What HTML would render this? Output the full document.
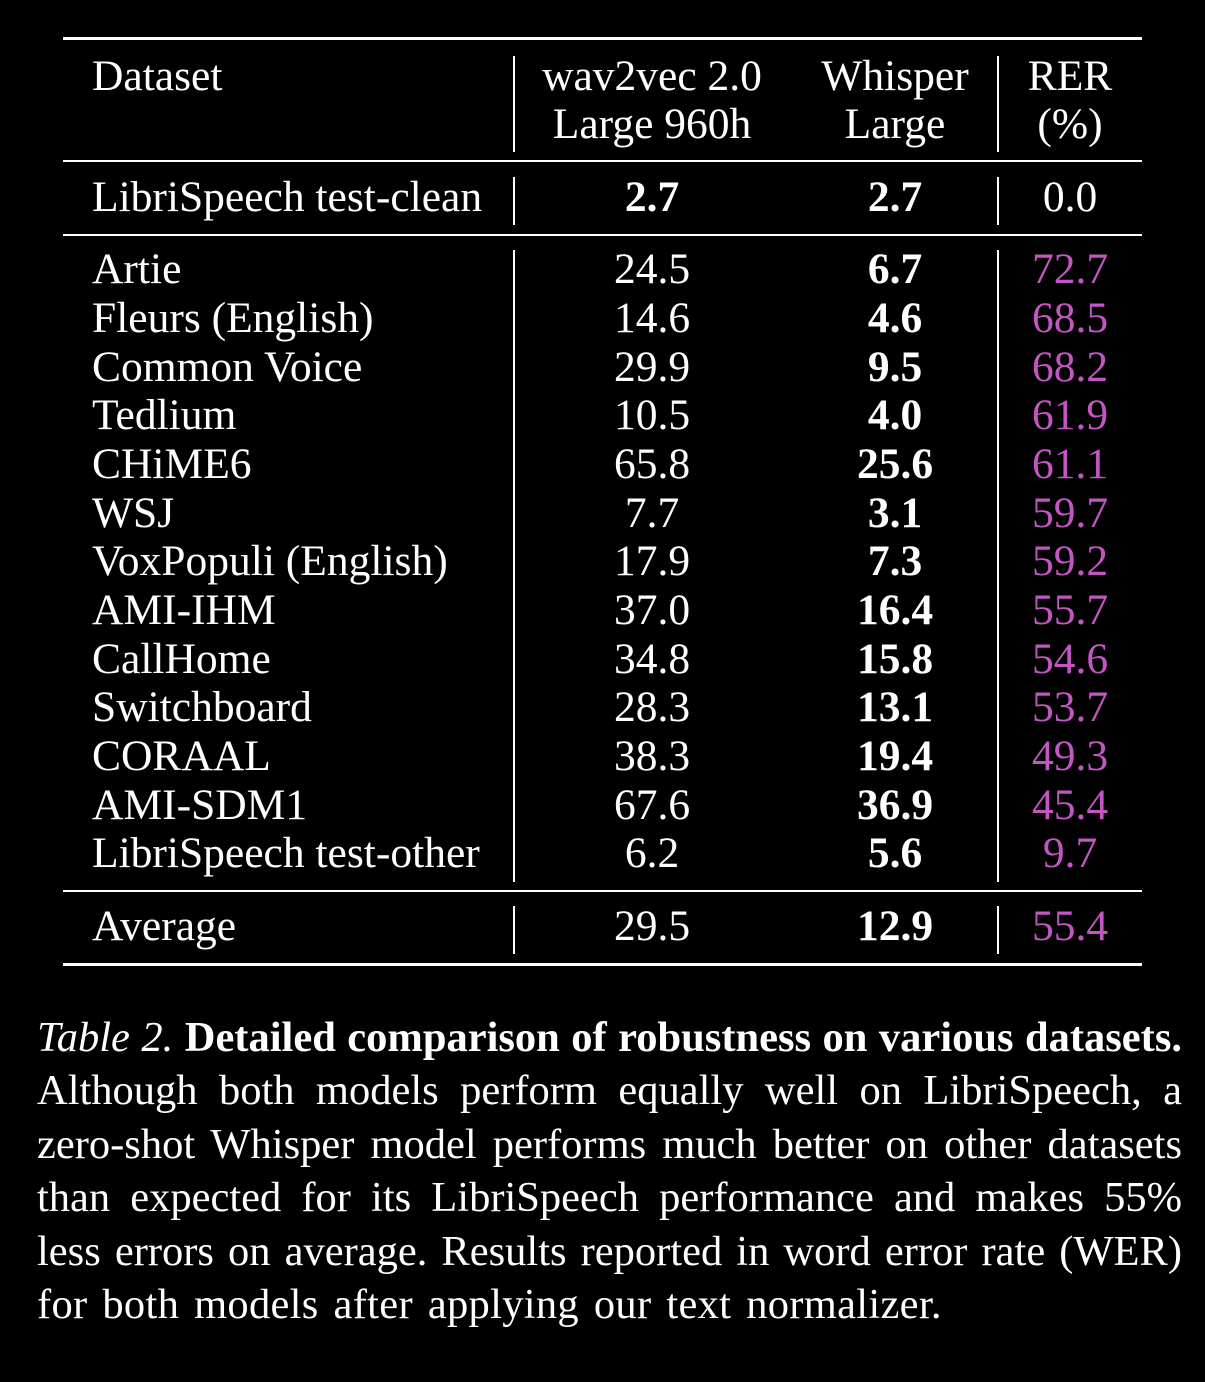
<!DOCTYPE html><html><head><style>
body{margin:0;background:#000;width:1205px;height:1382px;position:relative;overflow:hidden;font-family:"Liberation Serif",serif;color:#fff}
.t{position:absolute;height:50px;line-height:50px;font-size:43.5px;white-space:nowrap}
.c{transform:translateX(-50%)}
.b{font-weight:bold}
.m{color:#c455c4}
.h{position:absolute;left:63px;width:1079px;background:#fff}
.v{position:absolute;width:2px;background:#fff}
.cap{position:absolute;left:37px;width:1145px;top:1011px;font-size:42.5px;line-height:53.4px}
.cap div{text-align:justify;text-align-last:justify;white-space:nowrap}
.cap div.l{text-align-last:left;word-spacing:4px;letter-spacing:0.3px}
</style></head><body>
<div class="h" style="top:37px;height:3px"></div>
<div class="h" style="top:160px;height:2px"></div>
<div class="h" style="top:234px;height:2px"></div>
<div class="h" style="top:890px;height:2px"></div>
<div class="h" style="top:963px;height:3px"></div>
<div class="v" style="left:513px;top:56px;height:96px"></div>
<div class="v" style="left:997px;top:56px;height:96px"></div>
<div class="v" style="left:513px;top:177px;height:48px"></div>
<div class="v" style="left:997px;top:177px;height:48px"></div>
<div class="v" style="left:513px;top:250px;height:632px"></div>
<div class="v" style="left:997px;top:250px;height:632px"></div>
<div class="v" style="left:513px;top:906px;height:48px"></div>
<div class="v" style="left:997px;top:906px;height:48px"></div>
<div class="t" style="left:92px;top:51px">Dataset</div>
<div class="t c" style="left:652px;top:51px">wav2vec 2.0</div>
<div class="t c" style="left:652px;top:99px">Large 960h</div>
<div class="t c" style="left:895px;top:51px">Whisper</div>
<div class="t c" style="left:895px;top:99px">Large</div>
<div class="t c" style="left:1070px;top:51px">RER</div>
<div class="t c" style="left:1070px;top:99px">(%)</div>
<div class="t" style="left:92px;top:172px">LibriSpeech test-clean</div>
<div class="t c b" style="left:652px;top:172px">2.7</div>
<div class="t c b" style="left:895px;top:172px">2.7</div>
<div class="t c" style="left:1070px;top:172px">0.0</div>
<div class="t" style="left:92px;top:901px">Average</div>
<div class="t c" style="left:652px;top:901px">29.5</div>
<div class="t c b" style="left:895px;top:901px">12.9</div>
<div class="t c m" style="left:1070px;top:901px">55.4</div>
<div class="t" style="left:92px;top:244px">Artie</div><div class="t c" style="left:652px;top:244px">24.5</div><div class="t c b" style="left:895px;top:244px">6.7</div><div class="t c m" style="left:1070px;top:244px">72.7</div>
<div class="t" style="left:92px;top:293px">Fleurs (English)</div><div class="t c" style="left:652px;top:293px">14.6</div><div class="t c b" style="left:895px;top:293px">4.6</div><div class="t c m" style="left:1070px;top:293px">68.5</div>
<div class="t" style="left:92px;top:342px">Common Voice</div><div class="t c" style="left:652px;top:342px">29.9</div><div class="t c b" style="left:895px;top:342px">9.5</div><div class="t c m" style="left:1070px;top:342px">68.2</div>
<div class="t" style="left:92px;top:390px">Tedlium</div><div class="t c" style="left:652px;top:390px">10.5</div><div class="t c b" style="left:895px;top:390px">4.0</div><div class="t c m" style="left:1070px;top:390px">61.9</div>
<div class="t" style="left:92px;top:439px">CHiME6</div><div class="t c" style="left:652px;top:439px">65.8</div><div class="t c b" style="left:895px;top:439px">25.6</div><div class="t c m" style="left:1070px;top:439px">61.1</div>
<div class="t" style="left:92px;top:488px">WSJ</div><div class="t c" style="left:652px;top:488px">7.7</div><div class="t c b" style="left:895px;top:488px">3.1</div><div class="t c m" style="left:1070px;top:488px">59.7</div>
<div class="t" style="left:92px;top:536px">VoxPopuli (English)</div><div class="t c" style="left:652px;top:536px">17.9</div><div class="t c b" style="left:895px;top:536px">7.3</div><div class="t c m" style="left:1070px;top:536px">59.2</div>
<div class="t" style="left:92px;top:585px">AMI-IHM</div><div class="t c" style="left:652px;top:585px">37.0</div><div class="t c b" style="left:895px;top:585px">16.4</div><div class="t c m" style="left:1070px;top:585px">55.7</div>
<div class="t" style="left:92px;top:634px">CallHome</div><div class="t c" style="left:652px;top:634px">34.8</div><div class="t c b" style="left:895px;top:634px">15.8</div><div class="t c m" style="left:1070px;top:634px">54.6</div>
<div class="t" style="left:92px;top:682px">Switchboard</div><div class="t c" style="left:652px;top:682px">28.3</div><div class="t c b" style="left:895px;top:682px">13.1</div><div class="t c m" style="left:1070px;top:682px">53.7</div>
<div class="t" style="left:92px;top:731px">CORAAL</div><div class="t c" style="left:652px;top:731px">38.3</div><div class="t c b" style="left:895px;top:731px">19.4</div><div class="t c m" style="left:1070px;top:731px">49.3</div>
<div class="t" style="left:92px;top:780px">AMI-SDM1</div><div class="t c" style="left:652px;top:780px">67.6</div><div class="t c b" style="left:895px;top:780px">36.9</div><div class="t c m" style="left:1070px;top:780px">45.4</div>
<div class="t" style="left:92px;top:828px">LibriSpeech test-other</div><div class="t c" style="left:652px;top:828px">6.2</div><div class="t c b" style="left:895px;top:828px">5.6</div><div class="t c m" style="left:1070px;top:828px">9.7</div>
<div class="cap">
<div><i>Table 2.</i> <b>Detailed comparison of robustness on various datasets.</b></div>
<div>Although both models perform equally well on LibriSpeech, a</div>
<div>zero-shot Whisper model performs much better on other datasets</div>
<div>than expected for its LibriSpeech performance and makes 55%</div>
<div>less errors on average. Results reported in word error rate (WER)</div>
<div class="l">for both models after applying our text normalizer.</div>
</div>
</body></html>
